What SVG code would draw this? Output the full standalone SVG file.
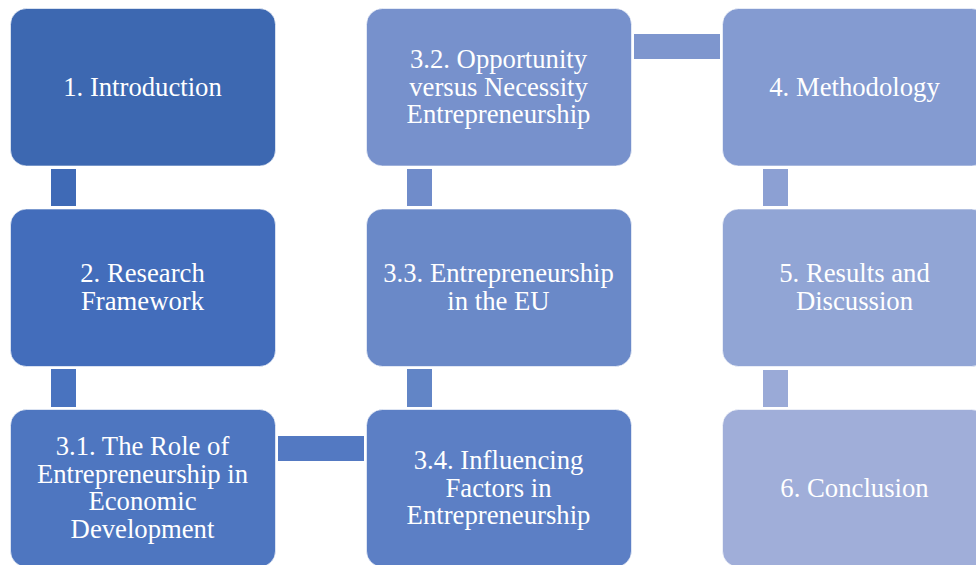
<svg xmlns="http://www.w3.org/2000/svg" width="976" height="565" viewBox="0 0 976 565" font-family="Liberation Serif, Times New Roman, serif">
<style>
.box{stroke:#ffffff;stroke-opacity:0.6;stroke-width:1}
.lbl{font-size:26.7px;fill:#ffffff;text-anchor:middle}
</style>
<rect width="976" height="565" fill="#ffffff"/>
<g id="connectors">
<rect x="51" y="169" width="25" height="37" fill="#3F6AB6"/>
<rect x="51" y="369" width="25" height="38" fill="#4973BF"/>
<rect x="278" y="436" width="86" height="25" fill="#5379C2"/>
<rect x="407" y="369" width="25" height="38" fill="#6285C6"/>
<rect x="407" y="169" width="25" height="37" fill="#708CCA"/>
<rect x="634" y="34" width="86" height="25" fill="#7E96CE"/>
<rect x="763" y="169" width="25" height="37" fill="#8CA0D3"/>
<rect x="763" y="370" width="25" height="37" fill="#9AAAD7"/>
</g>
<g id="n1"><rect class="box" x="10.5" y="8.5" width="265" height="157.5" rx="16" fill="#3D68B1"/>
<text class="lbl" font-family="Liberation Serif" x="142.5" y="96">1. Introduction</text></g>
<g id="n2"><rect class="box" x="10.5" y="209" width="265" height="157.5" rx="16" fill="#436DBB"/>
<text class="lbl" font-family="Liberation Serif" x="142.5" y="282">2. Research</text><text class="lbl" font-family="Liberation Serif" x="142.5" y="310">Framework</text></g>
<g id="n31"><rect class="box" x="10.5" y="409.5" width="265" height="157.5" rx="16" fill="#4E76C0"/>
<text class="lbl" font-family="Liberation Serif" x="142.5" y="455">3.1. The Role of</text><text class="lbl" font-family="Liberation Serif" x="142.5" y="482.6">Entrepreneurship in</text><text class="lbl" font-family="Liberation Serif" x="142.5" y="510.2">Economic</text><text class="lbl" font-family="Liberation Serif" x="142.5" y="537.8">Development</text></g>
<g id="n34"><rect class="box" x="366.5" y="409.5" width="265" height="157.5" rx="16" fill="#5C7FC5"/>
<text class="lbl" font-family="Liberation Serif" x="498.5" y="469">3.4. Influencing</text><text class="lbl" font-family="Liberation Serif" x="498.5" y="496.6">Factors in</text><text class="lbl" font-family="Liberation Serif" x="498.5" y="524.2">Entrepreneurship</text></g>
<g id="n33"><rect class="box" x="366.5" y="209" width="265" height="157.5" rx="16" fill="#6A89C8"/>
<text class="lbl" font-family="Liberation Serif" x="498.5" y="282">3.3. Entrepreneurship</text><text class="lbl" font-family="Liberation Serif" x="498.5" y="310">in the EU</text></g>
<g id="n32"><rect class="box" x="366.5" y="8.5" width="265" height="157.5" rx="16" fill="#7791CC"/>
<text class="lbl" font-family="Liberation Serif" x="498.5" y="68">3.2. Opportunity</text><text class="lbl" font-family="Liberation Serif" x="498.5" y="95.6">versus Necessity</text><text class="lbl" font-family="Liberation Serif" x="498.5" y="123.2">Entrepreneurship</text></g>
<g id="n4"><rect class="box" x="722.5" y="8.5" width="265" height="157.5" rx="16" fill="#849BD1"/>
<text class="lbl" font-family="Liberation Serif" x="854.5" y="96">4. Methodology</text></g>
<g id="n5"><rect class="box" x="722.5" y="209" width="265" height="157.5" rx="16" fill="#91A5D5"/>
<text class="lbl" font-family="Liberation Serif" x="854.5" y="282">5. Results and</text><text class="lbl" font-family="Liberation Serif" x="854.5" y="310">Discussion</text></g>
<g id="n6"><rect class="box" x="722.5" y="409.5" width="265" height="157.5" rx="16" fill="#A0AED9"/>
<text class="lbl" font-family="Liberation Serif" x="854.5" y="497">6. Conclusion</text></g>
</svg>
